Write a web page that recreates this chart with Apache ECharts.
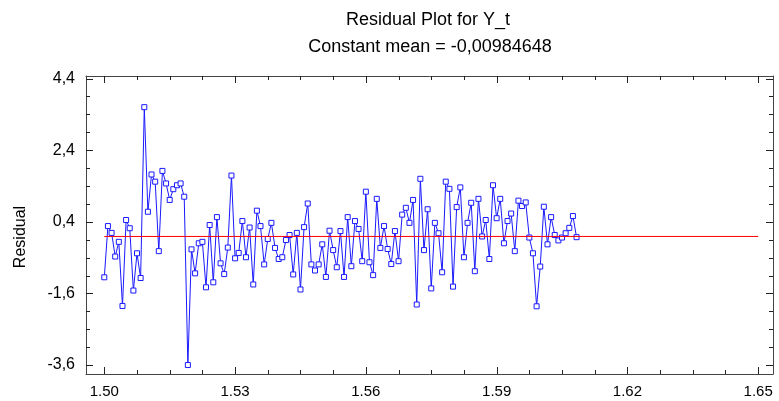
<!DOCTYPE html>
<html><head><meta charset="utf-8">
<script src="https://cdn.jsdelivr.net/npm/echarts@6/dist/echarts.min.js"></script>
<style>html,body{margin:0;padding:0;background:#fff}#c{width:779px;height:401px}</style>
</head><body><div id="c"></div>
<script>
const titleText = 'Residual Plot for Y_t';
const subtitleText = 'Constant mean = -0,00984648';
const yAxisName = 'Residual';
const meanValue = -0.00984648;
const meanLineX = [1.50, 1.65];

const xValues = [
  1.5, 1.50083, 1.50167, 1.5025, 1.50333, 1.50417,
  1.505, 1.50583, 1.50667, 1.5075, 1.50833, 1.50917,
  1.51, 1.51083, 1.51167, 1.5125, 1.51333, 1.51417,
  1.515, 1.51583, 1.51667, 1.5175, 1.51833, 1.51917,
  1.52, 1.52083, 1.52167, 1.5225, 1.52333, 1.52417,
  1.525, 1.52583, 1.52667, 1.5275, 1.52833, 1.52917,
  1.53, 1.53083, 1.53167, 1.5325, 1.53333, 1.53417,
  1.535, 1.53583, 1.53667, 1.5375, 1.53833, 1.53917,
  1.54, 1.54083, 1.54167, 1.5425, 1.54333, 1.54417,
  1.545, 1.54583, 1.54667, 1.5475, 1.54833, 1.54917,
  1.55, 1.55083, 1.55167, 1.5525, 1.55333, 1.55417,
  1.555, 1.55583, 1.55667, 1.5575, 1.55833, 1.55917,
  1.56, 1.56083, 1.56167, 1.5625, 1.56333, 1.56417,
  1.565, 1.56583, 1.56667, 1.5675, 1.56833, 1.56917,
  1.57, 1.57083, 1.57167, 1.5725, 1.57333, 1.57417,
  1.575, 1.57583, 1.57667, 1.5775, 1.57833, 1.57917,
  1.58, 1.58083, 1.58167, 1.5825, 1.58333, 1.58417,
  1.585, 1.58583, 1.58667, 1.5875, 1.58833, 1.58917,
  1.59, 1.59083, 1.59167, 1.5925, 1.59333, 1.59417,
  1.595, 1.59583, 1.59667, 1.5975, 1.59833, 1.59917,
  1.6, 1.60083, 1.60167, 1.6025, 1.60333, 1.60417,
  1.605, 1.60583, 1.60667, 1.6075, 1.60833
];

const residuals = [
  -1.15, 0.28, 0.09, -0.57, -0.16, -1.95, 0.45, 0.22, -1.52, -0.48,
  -1.17, 3.60, 0.68, 1.72, 1.52, -0.42, 1.82, 1.47, 1.01, 1.31,
  1.42, 1.47, 1.10, -3.60, -0.37, -1.04, -0.20, -0.16, -1.43, 0.31,
  -1.29, 0.53, -0.76, -1.06, -0.32, 1.69, -0.62, -0.47, 0.42, -0.59,
  0.24, -1.35, 0.71, 0.28, -0.79, -0.08, 0.37, -0.33, -0.64, -0.59,
  -0.11, 0.03, -1.07, 0.09, -1.49, 0.25, 0.91, -0.79, -0.96, -0.79,
  -0.23, -1.14, 0.15, -0.39, -0.87, 0.14, -1.14, 0.53, -0.84, 0.42,
  0.20, -0.70, 1.24, -0.73, -1.09, 1.04, -0.33, 0.28, -0.36, -0.78,
  0.14, -0.70, 0.60, 0.79, 0.37, 1.01, -1.91, 1.60, -0.39, 0.75,
  -1.46, 0.37, 0.08, -1.01, 1.52, 1.32, -1.41, 0.81, 1.36, -0.59,
  0.37, 0.93, -0.98, 1.04, -0.01, 0.45, -0.64, 1.42, 0.50, 1.04,
  -0.20, 0.42, 0.63, -0.42, 0.99, 0.84, 0.94, -0.04, -0.48, -1.96,
  -0.85, 0.82, -0.23, 0.53, 0.03, -0.12, -0.04, 0.08, 0.23, 0.56,
  -0.03
];

const xMajorTicks = [1.50, 1.53, 1.56, 1.59, 1.62, 1.65];
const xMinorTicks = [1.5075, 1.515, 1.5225, 1.5375, 1.545, 1.5525, 1.5675, 1.575, 1.5825,
  1.5975, 1.605, 1.6125, 1.6275, 1.635, 1.6425];
const yMajorTicks = [-3.6, -1.6, 0.4, 2.4, 4.4];
const yMinorTicks = [-3.1, -2.6, -2.1, -1.1, -0.6, -0.1, 0.9, 1.4, 1.9, 2.9, 3.4, 3.9];

const X_MIN = 1.4958, X_MAX = 1.6534, Y_MIN = -3.85, Y_MAX = 4.47;
const FONT = 'Liberation Sans, Arial, sans-serif';
const frameColor = '#444';
const tickColor = '#222';

// tick marks drawn through the axes' own scales (api.coord), pointing into the plot on all four sides
function tickSeries(values, dim, len) {
  return {
    type: 'custom', xAxisIndex: 0, yAxisIndex: 0, silent: true, clip: false, z: 6,
    data: values.map(v => [v]),
    encode: dim === 'x' ? {x: 0} : {y: 0},
    renderItem: function (params, api) {
      const v = api.value(0);
      const st = {stroke: tickColor, lineWidth: 1};
      if (dim === 'x') {
        const b = api.coord([v, Y_MIN]), t = api.coord([v, Y_MAX]);
        const x = Math.round(b[0]) + 0.5;
        return {type: 'group', children: [
          {type: 'line', shape: {x1: x, y1: b[1], x2: x, y2: b[1] - len}, style: st},
          {type: 'line', shape: {x1: x, y1: t[1], x2: x, y2: t[1] + len}, style: st}
        ]};
      } else {
        const l = api.coord([X_MIN, v]), r = api.coord([X_MAX, v]);
        const y = Math.round(l[1]) + 0.5;
        return {type: 'group', children: [
          {type: 'line', shape: {x1: l[0], y1: y, x2: l[0] + len, y2: y}, style: st},
          {type: 'line', shape: {x1: r[0], y1: y, x2: r[0] - len, y2: y}, style: st}
        ]};
      }
    }
  };
}

function xAx(pos, labels) {
  return {
    type: 'value', position: pos, min: X_MIN, max: X_MAX,
    axisLine: {show: true, onZero: false, lineStyle: {color: frameColor, width: 1}},
    splitLine: {show: false},
    axisTick: {show: false},
    axisLabel: labels ? {show: true, customValues: xMajorTicks, formatter: v => v.toFixed(2), fontFamily: FONT, fontSize: 15, color: '#000', margin: 10}
                      : {show: false}
  };
}
function yAx(pos, labels) {
  return {
    type: 'value', position: pos, min: Y_MIN, max: Y_MAX,
    axisLine: {show: true, onZero: false, lineStyle: {color: frameColor, width: 1}},
    splitLine: {show: false},
    axisTick: {show: false},
    axisLabel: labels ? {show: true, customValues: yMajorTicks, formatter: v => v.toFixed(1).replace('.', ','), fontFamily: FONT, fontSize: 16, color: '#000', margin: 11}
                      : {show: false}
  };
}

const chart = echarts.init(document.getElementById('c'), null, {renderer: 'canvas'});
chart.setOption({
  animation: false,
  backgroundColor: '#fff',
  grid: {left: 86, right: 6, top: 76, bottom: 27, show: false},
  graphic: [
    {type: 'text', x: 428, y: 20, style: {text: titleText, font: '18px ' + FONT, fill: '#000', textAlign: 'center', textVerticalAlign: 'middle'}},
    {type: 'text', x: 430, y: 47, style: {text: subtitleText, font: '18px ' + FONT, fill: '#000', textAlign: 'center', textVerticalAlign: 'middle'}},
    {type: 'text', x: 21, y: 237, rotation: Math.PI / 2, style: {text: yAxisName, font: '16px ' + FONT, fill: '#000', textAlign: 'center', textVerticalAlign: 'middle'}}
  ],
  xAxis: [xAx('bottom', true), xAx('top', false)],
  yAxis: [yAx('left', true), yAx('right', false)],
  series: [
    {
      type: 'line', xAxisIndex: 0, yAxisIndex: 0,
      data: xValues.map((x, i) => [x, residuals[i]]),
      symbol: 'rect', symbolSize: 5,
      lineStyle: {color: '#1a1aff', width: 1},
      itemStyle: {color: '#ffffff', borderColor: '#1a1aff', borderWidth: 1},
      z: 3
    },
    {
      type: 'line', xAxisIndex: 0, yAxisIndex: 0,
      data: meanLineX.map(x => [x, meanValue]),
      symbol: 'none',
      lineStyle: {color: '#ff0000', width: 1},
      z: 4
    },
    tickSeries(xMajorTicks, 'x', 7),
    tickSeries(xMinorTicks, 'x', 4),
    tickSeries(yMajorTicks, 'y', 7),
    tickSeries(yMinorTicks, 'y', 4)
  ]
});
</script></body></html>
